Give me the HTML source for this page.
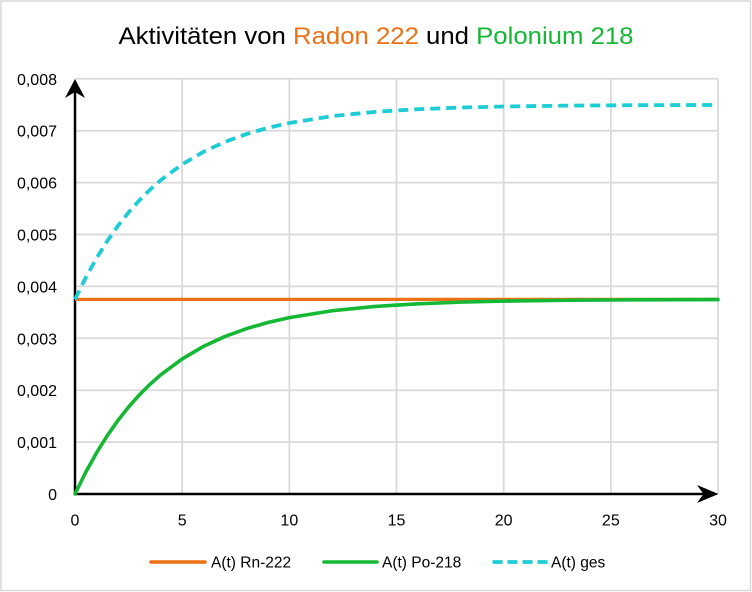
<!DOCTYPE html>
<html>
<head>
<meta charset="utf-8">
<style>
  html, body { margin:0; padding:0; background:#ffffff; }
  svg { display:block; }
  text { font-family: "Liberation Sans", "DejaVu Sans", sans-serif; }
</style>
</head>
<body>
<svg width="752" height="592" viewBox="0 0 752 592" xmlns="http://www.w3.org/2000/svg">
  <rect x="0" y="0" width="752" height="592" fill="#ffffff"/>
  <rect x="1" y="1" width="749.5" height="589.5" fill="none" stroke="#D9D9D9" stroke-width="1.5"/>

  <!-- Title -->
  <text x="376" y="44" text-anchor="middle" font-size="24" fill="#000000" textLength="515" lengthAdjust="spacingAndGlyphs">Aktivitäten von <tspan fill="#EC7116">Radon 222</tspan> und <tspan fill="#14B835">Polonium 218</tspan></text>

  <!-- Gridlines -->
  <g stroke="#D9D9D9" stroke-width="1.75" fill="none">
    <line x1="75" y1="442.1" x2="718" y2="442.1"/>
    <line x1="75" y1="390.2" x2="718" y2="390.2"/>
    <line x1="75" y1="338.3" x2="718" y2="338.3"/>
    <line x1="75" y1="286.4" x2="718" y2="286.4"/>
    <line x1="75" y1="234.5" x2="718" y2="234.5"/>
    <line x1="75" y1="182.6" x2="718" y2="182.6"/>
    <line x1="75" y1="130.7" x2="718" y2="130.7"/>
    <line x1="75" y1="78.8" x2="718" y2="78.8"/>
    <line x1="182.17" y1="78.8" x2="182.17" y2="494"/>
    <line x1="289.33" y1="78.8" x2="289.33" y2="494"/>
    <line x1="396.5" y1="78.8" x2="396.5" y2="494"/>
    <line x1="503.67" y1="78.8" x2="503.67" y2="494"/>
    <line x1="610.83" y1="78.8" x2="610.83" y2="494"/>
    <line x1="718" y1="78.8" x2="718" y2="494"/>
  </g>

  <!-- Y tick labels -->
  <g font-size="16" fill="#000000" text-anchor="end">
    <text x="57" y="84.8">0,008</text>
    <text x="57" y="136.7">0,007</text>
    <text x="57" y="188.6">0,006</text>
    <text x="57" y="240.5">0,005</text>
    <text x="57" y="292.4">0,004</text>
    <text x="57" y="344.3">0,003</text>
    <text x="57" y="396.2">0,002</text>
    <text x="57" y="448.1">0,001</text>
    <text x="57" y="500">0</text>
  </g>

  <!-- X tick labels -->
  <g font-size="16" fill="#000000" text-anchor="middle">
    <text x="75" y="525.5">0</text>
    <text x="182.17" y="525.5">5</text>
    <text x="289.33" y="525.5">10</text>
    <text x="396.5" y="525.5">15</text>
    <text x="503.67" y="525.5">20</text>
    <text x="610.83" y="525.5">25</text>
    <text x="718" y="525.5">30</text>
  </g>

  <!-- Axes -->
  <g stroke="#000000" stroke-width="2.5" fill="none">
    <line x1="75" y1="494" x2="75" y2="88"/>
    <line x1="75" y1="494" x2="708" y2="494"/>
  </g>
  <polygon points="75,79 85,98 75,92 65,98" fill="#000000"/>
  <polygon points="718.5,494 697,485 703.5,494 697,503" fill="#000000"/>

  <!-- Rn-222 (orange) -->
  <line x1="75" y1="299.4" x2="718" y2="299.4" stroke="#EC7116" stroke-width="3.2"/>

  <!-- Po-218 (green) -->
  <polyline fill="none" stroke="#14B835" stroke-width="3.6" stroke-linejoin="round" stroke-linecap="round"
    points="75,494 85.72,472.24 96.43,452.94 107.15,435.78 117.87,420.54 128.58,406.99 139.3,394.97 150.02,384.28 160.73,374.81 182.17,358.89 203.6,346.34 225.03,336.43 246.47,328.63 267.9,322.46 289.33,317.6 332.2,310.73 375.06,306.44 417.93,303.8 460.8,302.12 503.66,301.09 567.96,300.24 632.26,299.81 718,299.56"/>

  <!-- A(t) ges (cyan dashed) -->
  <polyline fill="none" stroke="#1ECCD5" stroke-width="3.8" stroke-linejoin="round" stroke-dasharray="10 6"
    points="75,299.4 85.72,277.64 96.43,258.34 107.15,241.18 117.87,225.94 128.58,212.39 139.3,200.37 150.02,189.68 160.73,180.21 182.17,164.29 203.6,151.74 225.03,141.83 246.47,134.03 267.9,127.86 289.33,123.0 332.2,116.13 375.06,111.84 417.93,109.2 460.8,107.52 503.66,106.49 567.96,105.64 632.26,105.21 718,104.96"/>

  <!-- Legend -->
  <line x1="151" y1="562" x2="205" y2="562" stroke="#EC7116" stroke-width="3.6" stroke-linecap="round"/>
  <text x="211" y="567.5" font-size="15.5" fill="#000000">A(t) Rn-222</text>
  <line x1="324" y1="562" x2="377" y2="562" stroke="#14B835" stroke-width="3.6" stroke-linecap="round"/>
  <text x="382" y="567.5" font-size="15.5" fill="#000000">A(t) Po-218</text>
  <line x1="492.5" y1="562" x2="548" y2="562" stroke="#1ECCD5" stroke-width="3.8" stroke-dasharray="10 5"/>
  <text x="551" y="567.5" font-size="15.5" fill="#000000">A(t) ges</text>
</svg>
</body>
</html>
